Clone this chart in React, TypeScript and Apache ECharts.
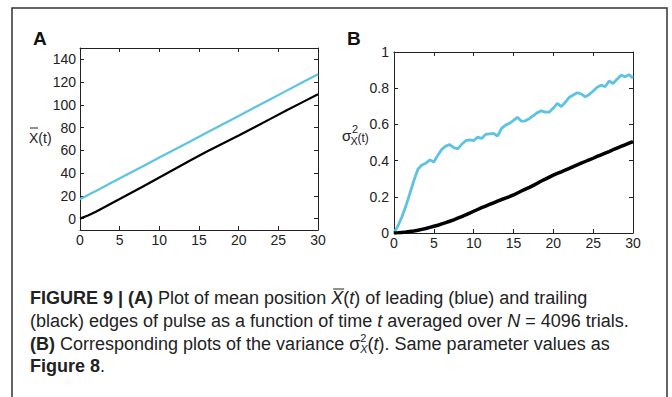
import React, { useEffect, useRef } from "react";
import * as echarts from "echarts";

// ---------- data ----------
const tA = [0, 1, 2, 4, 6, 8, 10, 12, 14, 16, 18, 20, 22, 24, 26, 28, 30];
const leadingA = [17, 20.7, 24.3, 31.7, 39, 46.3, 53.7, 61, 68.3, 75.7, 83, 90.3, 97.7, 105, 112.3, 119.7, 127];
const trailingA = [0, 2.8, 6, 13.5, 21, 28.5, 36.2, 43.8, 51.5, 59, 66, 73, 80.3, 87.7, 95, 102.2, 109.4];

const tB = [
  0, 0.5, 1, 1.5, 2, 2.5, 3, 3.5, 4, 4.5, 5, 5.5, 6, 6.5, 7, 7.5, 8, 8.5, 9, 9.5,
  10, 10.5, 11, 11.5, 12, 12.5, 13, 13.5, 14, 14.5, 15, 15.5, 16, 16.5, 17, 17.5, 18, 18.5, 19, 19.5,
  20, 20.5, 21, 21.5, 22, 22.5, 23, 23.5, 24, 24.5, 25, 25.5, 26, 26.5, 27, 27.5, 28, 28.5, 29, 29.5, 30,
];
const leadingB = [
  0, 0.04, 0.09, 0.15, 0.22, 0.29, 0.352, 0.376, 0.385, 0.404, 0.392, 0.43, 0.462, 0.48, 0.488, 0.472, 0.465, 0.49, 0.51, 0.515,
  0.51, 0.53, 0.522, 0.545, 0.548, 0.55, 0.536, 0.578, 0.596, 0.606, 0.622, 0.639, 0.618, 0.62, 0.633, 0.648, 0.665, 0.675, 0.668, 0.668,
  0.69, 0.716, 0.698, 0.722, 0.75, 0.762, 0.775, 0.768, 0.752, 0.765, 0.785, 0.805, 0.817, 0.808, 0.84, 0.826, 0.85, 0.872, 0.863, 0.875, 0.855,
];
const trailingB = [
  0, 0.001, 0.003, 0.005, 0.008, 0.011, 0.015, 0.02, 0.025, 0.031, 0.037, 0.043, 0.05, 0.057, 0.065, 0.073, 0.082, 0.091, 0.1, 0.11,
  0.12, 0.13, 0.14, 0.149, 0.158, 0.167, 0.176, 0.185, 0.193, 0.201, 0.21, 0.221, 0.232, 0.242, 0.252, 0.263, 0.275, 0.287, 0.298, 0.309,
  0.32, 0.329, 0.338, 0.348, 0.357, 0.367, 0.376, 0.386, 0.395, 0.404, 0.413, 0.423, 0.432, 0.441, 0.45, 0.46, 0.469, 0.478, 0.487, 0.496, 0.505,
];

const yTicksA = [0, 20, 40, 60, 80, 100, 120, 140];

const BLUE = "#5cc4e2";
const INK = "#222222";
const FONT = '"Liberation Sans", Arial, sans-serif';

type Seg = { text: string; bold?: boolean; italic?: boolean; size?: number; dy?: number; over?: boolean; back?: boolean };

const captionLines: Seg[][] = [
  [
    { text: "FIGURE 9 | (A)", bold: true },
    { text: " Plot of mean position " },
    { text: "X", italic: true, over: true },
    { text: "(" },
    { text: "t", italic: true },
    { text: ") of leading (blue) and trailing" },
  ],
  [
    { text: "(black) edges of pulse as a function of time " },
    { text: "t", italic: true },
    { text: " averaged over " },
    { text: "N", italic: true },
    { text: " = 4096 trials." },
  ],
  [
    { text: "(B)", bold: true },
    { text: " Corresponding plots of the variance " },
    { text: "σ" },
    { text: "2", size: 11, dy: -6 },
    { text: "X", size: 11, dy: 5, italic: true, back: true },
    { text: "(" },
    { text: "t", italic: true },
    { text: "). Same parameter values as" },
  ],
  [{ text: "Figure 8", bold: true }, { text: "." }],
];

function buildCaption(): any[] {
  const canvas = document.createElement("canvas");
  const ctx = canvas.getContext("2d")!;
  const els: any[] = [];
  const baseSize = 18;
  const x0 = 30;
  const ys = [298, 321, 343.5, 365.5];
  captionLines.forEach((line, li) => {
    let x = x0;
    let lastW = 0;
    line.forEach((s) => {
      const size = s.size || baseSize;
      const weight = s.bold ? "bold" : "normal";
      const style = s.italic ? "italic" : "normal";
      ctx.font = `${style} ${weight} ${size}px ${FONT}`;
      const w = ctx.measureText(s.text).width;
      const px = s.back ? x - lastW : x;
      els.push({
        type: "text",
        x: px,
        y: ys[li] + (s.dy || 0),
        style: {
          text: s.text,
          fontFamily: FONT,
          fontSize: size,
          fontWeight: weight,
          fontStyle: style,
          fill: INK,
          align: "left",
          verticalAlign: "middle",
        },
      });
      if (s.over) {
        els.push({
          type: "line",
          shape: { x1: px + 2, y1: ys[li] - 9, x2: px + w + 1, y2: ys[li] - 9 },
          style: { stroke: INK, lineWidth: 1 },
        });
      }
      x = s.back ? Math.max(x, px + w) : px + w;
      lastW = w;
    });
  });
  return els;
}

function xAxes(gridIndex: number, top: boolean): any {
  return {
    type: "value",
    gridIndex,
    position: top ? "top" : "bottom",
    min: 0,
    max: 30,
    interval: 5,
    axisLine: { show: true, onZero: false, lineStyle: { color: INK, width: 1 } },
    axisTick: { show: true, inside: true, length: 4, lineStyle: { color: INK } },
    axisLabel: { show: !top, color: INK, fontFamily: FONT, fontSize: 14, margin: 3 },
    splitLine: { show: false },
  };
}

export default function App() {
  const ref = useRef<HTMLDivElement>(null);
  useEffect(() => {
    document.body.style.margin = "0";
    const chart = echarts.init(ref.current!, undefined, { renderer: "svg" });
    const yA = (right: boolean): any => ({
      type: "value",
      gridIndex: 0,
      position: right ? "right" : "left",
      min: -10,
      max: 150,
      axisLine: { show: true, onZero: false, lineStyle: { color: INK, width: 1 } },
      axisTick: { show: true, inside: true, length: 4, customValues: yTicksA, lineStyle: { color: INK } },
      axisLabel: { show: !right, customValues: yTicksA, color: INK, fontFamily: FONT, fontSize: 14, margin: 4 },
      splitLine: { show: false },
    });
    const yB = (right: boolean): any => ({
      type: "value",
      gridIndex: 1,
      position: right ? "right" : "left",
      min: 0,
      max: 1,
      interval: 0.2,
      axisLine: { show: true, onZero: false, lineStyle: { color: INK, width: 1 } },
      axisTick: { show: true, inside: true, length: 4, lineStyle: { color: INK } },
      axisLabel: { show: !right, color: INK, fontFamily: FONT, fontSize: 14, margin: 5 },
      splitLine: { show: false },
    });
    const pts = (t: number[], v: number[]) => t.map((x, i) => [x, v[i]]);
    chart.setOption({
      animation: false,
      backgroundColor: "#ffffff",
      grid: [
        { left: 80, top: 48, width: 238, height: 182 },
        { left: 394, top: 52, width: 239, height: 181 },
      ],
      xAxis: [xAxes(0, false), xAxes(0, true), xAxes(1, false), xAxes(1, true)],
      yAxis: [yA(false), yA(true), yB(false), yB(true)],
      series: [
        { type: "line", xAxisIndex: 0, yAxisIndex: 0, data: pts(tA, leadingA), showSymbol: false, lineStyle: { color: BLUE, width: 2.2 } },
        { type: "line", xAxisIndex: 0, yAxisIndex: 0, data: pts(tA, trailingA), showSymbol: false, lineStyle: { color: "#000", width: 2.2 } },
        { type: "line", xAxisIndex: 2, yAxisIndex: 2, data: pts(tB, leadingB), showSymbol: false, lineStyle: { color: BLUE, width: 2.8 } },
        { type: "line", xAxisIndex: 2, yAxisIndex: 2, data: pts(tB, trailingB), showSymbol: false, lineStyle: { color: "#000", width: 3.5 } },
      ],
      graphic: [
        {
          type: "rect",
          shape: { x: 12, y: 8, width: 655, height: 400 },
          style: { fill: "none", stroke: "#333", lineWidth: 1.5 },
          silent: true,
        },
        { type: "text", x: 33, y: 38, style: { text: "A", fontFamily: FONT, fontSize: 19, fontWeight: "bold", fill: "#111", verticalAlign: "middle" } },
        { type: "text", x: 347, y: 38, style: { text: "B", fontFamily: FONT, fontSize: 19, fontWeight: "bold", fill: "#111", verticalAlign: "middle" } },
        // y axis name A: X-bar(t)
        { type: "text", x: 29, y: 138, style: { text: "X(t)", fontFamily: FONT, fontSize: 14, fill: INK, verticalAlign: "middle" } },
        { type: "line", shape: { x1: 30, y1: 128, x2: 38, y2: 128 }, style: { stroke: INK, lineWidth: 1 } },
        // y axis name B: sigma^2_X(t)
        { type: "text", x: 342, y: 135, style: { text: "σ", fontFamily: FONT, fontSize: 15, fill: INK, verticalAlign: "middle" } },
        { type: "text", x: 352, y: 129, style: { text: "2", fontFamily: FONT, fontSize: 11, fill: INK, verticalAlign: "middle" } },
        { type: "text", x: 350.5, y: 141, style: { text: "X", fontFamily: FONT, fontSize: 11, fill: INK, verticalAlign: "middle" } },
        { type: "text", x: 357.5, y: 137.5, style: { text: "(t)", fontFamily: FONT, fontSize: 12, fill: INK, verticalAlign: "middle" } },
        ...buildCaption(),
      ],
    });
    return () => chart.dispose();
  }, []);
  return <div ref={ref} style={{ width: 672, height: 397 }} />;
}
